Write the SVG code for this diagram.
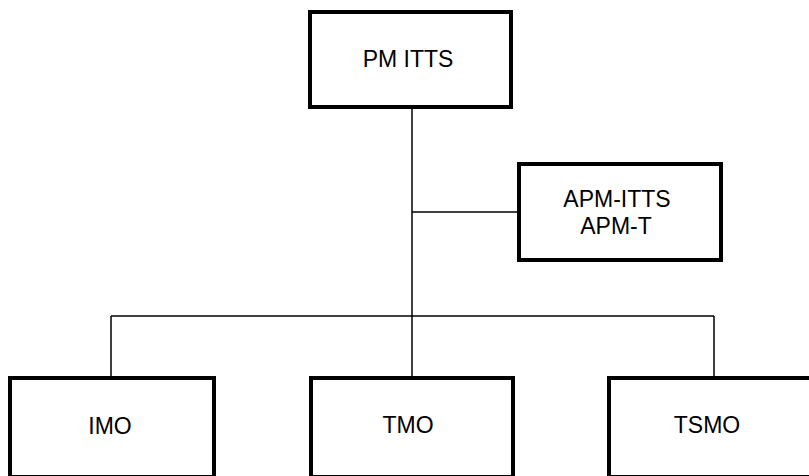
<svg xmlns="http://www.w3.org/2000/svg" width="809" height="476" viewBox="0 0 809 476">
<style>
.box{fill:#fff;stroke:#000;stroke-width:4}
.lbl{font-family:"Liberation Sans",Arial,sans-serif;font-size:23px;fill:#000;text-anchor:middle}
.conn{stroke:#000;stroke-width:1.5;fill:none}
</style>
<rect width="809" height="476" fill="#fff"/>
<g id="connectors">
<line class="conn" x1="412" y1="108" x2="412" y2="377"/>
<line class="conn" x1="412" y1="212" x2="518" y2="212"/>
<line class="conn" x1="111" y1="316" x2="714" y2="316"/>
<line class="conn" x1="111" y1="316" x2="111" y2="377"/>
<line class="conn" x1="714" y1="316" x2="714" y2="377"/>
</g>
<g id="pm-itts">
<rect class="box" x="310" y="12" width="201" height="95"/>
<text class="lbl" x="408" y="67">PM ITTS</text>
</g>
<g id="apm">
<rect class="box" x="519" y="164" width="202" height="96"/>
<text class="lbl" x="617" y="207">APM-ITTS</text>
<text class="lbl" x="616" y="234">APM-T</text>
</g>
<g id="imo">
<rect class="box" x="10" y="378" width="204" height="99"/>
<text class="lbl" x="110" y="434">IMO</text>
</g>
<g id="tmo">
<rect class="box" x="311" y="378" width="202" height="99"/>
<text class="lbl" x="408" y="433">TMO</text>
</g>
<g id="tsmo">
<rect class="box" x="609" y="378" width="210" height="99"/>
<text class="lbl" x="707" y="433">TSMO</text>
</g>
</svg>
